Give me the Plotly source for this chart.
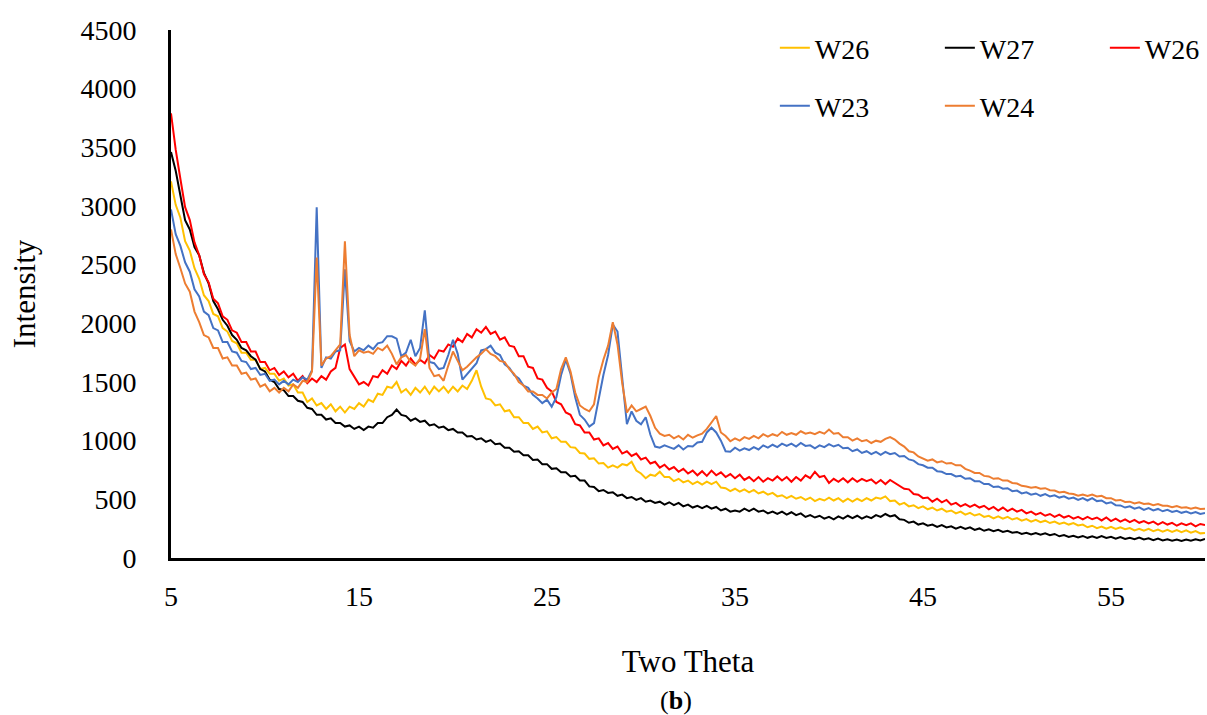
import numpy as np
import plotly.graph_objects as go

# 2-theta sampling grid (degrees), 0.25 deg steps from 5 to 60
two_theta = np.round(np.arange(5.0, 60.001, 0.25), 2)

# Measured intensities, one value per grid step (4 per degree)
w26_yellow = [
    3210, 3010, 2900, 2700, 2620, 2470, 2380, 2240, 2190, 2080, 2060, 1960,
    1930, 1850, 1830, 1750, 1750, 1690, 1690, 1610, 1620, 1570, 1570, 1510,
    1530, 1470, 1480, 1410, 1410, 1330, 1360, 1300, 1320, 1270, 1310, 1250,
    1290, 1240, 1290, 1270, 1320, 1290, 1350, 1330, 1400, 1390, 1460, 1450,
    1500, 1410, 1440, 1390, 1450, 1410, 1460, 1400, 1460, 1420, 1460, 1410,
    1460, 1420, 1470, 1440, 1510, 1600, 1460, 1360, 1350, 1300, 1310, 1250,
    1260, 1200, 1200, 1150, 1150, 1100, 1120, 1070, 1080, 1020, 1030, 990,
    990, 945, 940, 895, 890, 845, 850, 805, 810, 770, 790, 770,
    800, 790, 820, 745, 720, 680, 710, 700, 735, 690, 690, 655,
    675, 645, 660, 630, 650, 625, 650, 630, 650, 600, 595, 570,
    590, 565, 585, 560, 580, 550, 565, 540, 555, 525, 535, 510,
    530, 505, 520, 495, 515, 485, 505, 490, 515, 490, 510, 480,
    505, 480, 505, 485, 510, 490, 515, 505, 525, 485, 490, 455,
    470, 440, 450, 425, 440, 415, 430, 405, 420, 395, 405, 380,
    395, 370, 385, 362, 375, 350, 360, 338, 355, 335, 350, 328,
    340, 318, 332, 310, 326, 305, 318, 298, 310, 290, 302, 285,
    298, 278, 285, 262, 275, 255, 268, 250, 265, 248, 262, 245,
    255, 235, 248, 232, 248, 228, 242, 225, 240, 222, 238, 220,
    235, 215, 230, 210, 213,
]

w27_black = [
    3460, 3300, 3090, 2880, 2800, 2650, 2580, 2430, 2340, 2190, 2120, 2030,
    1980, 1900, 1860, 1790, 1770, 1720, 1690, 1610, 1590, 1520, 1500, 1440,
    1430, 1380, 1380, 1340, 1330, 1280, 1270, 1220, 1220, 1180, 1190, 1150,
    1150, 1120, 1130, 1100, 1120, 1090, 1120, 1110, 1150, 1150, 1200, 1220,
    1265, 1220, 1210, 1170, 1190, 1160, 1170, 1130, 1140, 1110, 1120, 1090,
    1100, 1070, 1070, 1035, 1040, 1010, 1020, 990, 1005, 970, 975, 940,
    940, 905, 910, 875, 875, 835, 840, 800, 800, 760, 765, 730,
    730, 695, 700, 660, 660, 610, 605, 570, 580, 555, 560, 530,
    540, 510, 520, 495, 510, 480, 490, 470, 480, 455, 475, 450,
    470, 440, 455, 430, 445, 425, 445, 420, 435, 405, 420, 395,
    405, 395, 420, 400, 420, 395, 405, 380, 395, 375, 395, 370,
    390, 365, 380, 350, 365, 345, 360, 335, 350, 330, 355, 335,
    360, 340, 360, 335, 355, 340, 365, 350, 375, 355, 365, 330,
    325, 300, 310, 285, 295, 275, 285, 265, 280, 260, 270, 250,
    265, 248, 262, 240, 252, 232, 245, 228, 240, 222, 232, 215,
    222, 205, 215, 200, 212, 198, 210, 195, 205, 185, 195, 180,
    190, 175, 188, 172, 185, 170, 186, 170, 180, 165, 178, 162,
    172, 160, 175, 158, 168, 152, 165, 150, 160, 148, 158, 145,
    158, 148, 160, 150, 162,
]

w26_red = [
    3790, 3480, 3230, 2990, 2880, 2690, 2580, 2420, 2350, 2210, 2170, 2060,
    2030, 1940, 1920, 1840, 1840, 1760, 1760, 1670, 1670, 1600, 1620, 1560,
    1590, 1540, 1570, 1510, 1550, 1490, 1530, 1500, 1550, 1520, 1590, 1620,
    1790, 1820, 1610, 1550, 1480, 1500, 1470, 1550, 1540, 1600, 1570, 1640,
    1610, 1680, 1640, 1700, 1650, 1690, 1660, 1730, 1700, 1770, 1760, 1820,
    1800, 1870, 1840, 1910, 1880, 1950, 1920, 1970, 1910, 1930, 1860, 1880,
    1810, 1800, 1720, 1720, 1630, 1620, 1530, 1520, 1450, 1420, 1330, 1310,
    1240, 1220, 1140, 1130, 1070, 1070, 1010, 1020, 960, 980, 930, 950,
    890, 910, 870, 890, 840, 855, 805, 820, 770, 795, 755, 775,
    735, 760, 720, 745, 705, 740, 700, 745, 705, 730, 690, 715,
    680, 710, 665, 690, 655, 690, 650, 680, 660, 695, 660, 690,
    650, 690, 660, 705, 680, 735, 690, 700, 640, 675, 650, 680,
    645, 680, 650, 675, 655, 670, 635, 665, 630, 665, 640, 620,
    590, 585, 545, 540, 510, 515, 480, 505, 475, 495, 455, 470,
    440, 460, 435, 455, 430, 445, 415, 435, 405, 430, 400, 420,
    395, 410, 380, 395, 370, 385, 360, 375, 350, 370, 345, 360,
    335, 350, 330, 350, 330, 345, 320, 345, 315, 335, 310, 330,
    305, 325, 300, 315, 295, 310, 285, 305, 285, 300, 275, 295,
    280, 295, 270, 290, 280,
]

w23_blue = [
    2970, 2760, 2660, 2520, 2440, 2290, 2230, 2100, 2070, 1960, 1940, 1840,
    1840, 1760, 1750, 1680, 1670, 1610, 1620, 1560, 1570, 1510, 1520, 1480,
    1510, 1480, 1520, 1500, 1540, 1520, 1600, 2990, 1620, 1710, 1700, 1760,
    1770, 2460, 1850, 1760, 1790, 1770, 1810, 1780, 1830, 1840, 1890, 1890,
    1870, 1720, 1750, 1860, 1720, 1790, 2110, 1670, 1660, 1610, 1620, 1730,
    1860, 1740, 1520, 1570, 1620, 1660, 1770, 1780, 1810, 1750, 1730, 1650,
    1620, 1560, 1530, 1470, 1450, 1390, 1360, 1320, 1350, 1290, 1370, 1560,
    1690, 1570, 1370, 1220, 1180, 1120, 1150, 1360, 1560, 1730, 1990, 1930,
    1560, 1140, 1250, 1170, 1140, 1200, 1050, 950, 940, 960, 945, 930,
    960, 925, 955, 950, 985, 990, 1070, 1110, 1070, 1000, 910, 905,
    940, 915, 935, 920, 945, 925, 960, 940, 965, 945, 975, 955,
    975, 950, 980, 955, 960, 935, 960, 945, 970, 950, 965, 935,
    940, 910, 925, 895, 910, 885, 905, 880, 905, 885, 895, 865,
    870, 840, 830, 800, 790, 770, 770, 740, 735, 715, 715, 695,
    700, 675, 680, 655, 655, 630, 630, 605, 610, 590, 595, 570,
    575, 550, 560, 540, 550, 530, 545, 525, 535, 515, 525, 505,
    515, 495, 510, 490, 510, 485, 490, 465, 475, 450, 448, 430,
    440, 420, 432, 410, 425, 405, 418, 398, 410, 392, 402, 385,
    395, 380, 392, 375, 384,
]

w24_orange = [
    2800, 2590, 2470, 2340, 2270, 2100, 2010, 1900, 1880, 1790, 1790, 1700,
    1710, 1640, 1640, 1570, 1580, 1520, 1530, 1460, 1480, 1420, 1450, 1410,
    1450, 1420, 1480, 1450, 1510, 1500, 1590, 2560, 1640, 1700, 1720, 1770,
    1820, 2700, 1900, 1720, 1770, 1750, 1760, 1740, 1790, 1770, 1810, 1740,
    1650, 1710, 1730, 1670, 1640, 1700, 1950, 1620, 1550, 1560, 1510, 1640,
    1760, 1680, 1600, 1630, 1670, 1710, 1740, 1780, 1740, 1720, 1680, 1670,
    1610, 1570, 1500, 1470, 1420, 1420, 1390, 1390, 1360, 1410, 1440, 1610,
    1710, 1590, 1410, 1300, 1270, 1250, 1310, 1540, 1690, 1810, 2010, 1820,
    1490, 1240, 1300, 1250, 1270, 1290, 1210, 1110, 1060, 1040, 1050, 1020,
    1040, 1010, 1050, 1025, 1045, 1060, 1100, 1150, 1210, 1070, 1040, 995,
    1020, 1000, 1030, 1015, 1040, 1020, 1055, 1035, 1055, 1040, 1075, 1050,
    1065, 1050, 1080, 1060, 1070, 1055, 1075, 1060, 1095, 1060, 1065, 1030,
    1030, 1000, 1020, 995, 1005, 980, 1000, 990, 1015, 1030, 1010, 975,
    950, 910, 900, 865, 850, 830, 840, 815, 825, 805, 810, 790,
    790, 760, 745, 725, 725, 700, 695, 675, 680, 660, 660, 640,
    635, 615, 610, 598, 605, 590, 595, 578, 575, 558, 565, 550,
    545, 530, 540, 528, 540, 525, 530, 510, 510, 490, 495, 478,
    480, 465, 475, 460, 465, 450, 460, 445, 445, 432, 442, 428,
    432, 420, 430, 418, 420,
]

x_ticks = [5, 15, 25, 35, 45, 55]

FONT = "Liberation Serif"

# name, values, colour, legend group, entry width (px) in the legend row
series = [
    ("W26", w26_yellow, "#FFC000", "legend", 120),
    ("W27", w27_black, "#000000", "legend", 120),
    ("W26", w26_red, "#FF0000", "legend", 50),
    ("W23", w23_blue, "#4472C4", "legend2", 120),
    ("W24", w24_orange, "#ED7D31", "legend2", 50),
]

fig = go.Figure()
for name, vals, color, leg, lw in series:
    fig.add_trace(go.Scatter(
        x=two_theta, y=vals, mode="lines", name=name,
        line=dict(color=color, width=2), legend=leg, legendwidth=lw,
    ))

legend_style = dict(
    orientation="h", xanchor="left", yanchor="middle",
    bgcolor="rgba(0,0,0,0)", font=dict(family=FONT, size=28, color="black"),
)

fig.update_layout(
    width=1207, height=715, autosize=False,
    margin=dict(l=171, r=2, t=30, b=157),
    paper_bgcolor="white", plot_bgcolor="white",
    font=dict(family=FONT, size=28, color="black"),
    legend=dict(x=0.584, y=0.966, **legend_style),
    legend2=dict(x=0.584, y=0.856, **legend_style),
    xaxis=dict(
        range=[5, 60], tickvals=x_ticks, showgrid=False, zeroline=False,
        showline=True, linecolor="black", linewidth=3,
        ticks="outside", ticklen=11, tickcolor="rgba(0,0,0,0)",
        tickfont=dict(family=FONT, size=28),
        title=dict(text="Two Theta", standoff=40, font=dict(family=FONT, size=31)),
    ),
    yaxis=dict(
        range=[0, 4500], dtick=500, showgrid=False, zeroline=False,
        showline=True, linecolor="black", linewidth=3,
        ticks="outside", ticklen=26, tickcolor="rgba(0,0,0,0)",
        tickfont=dict(family=FONT, size=28),
        title=dict(text="Intensity", standoff=36, font=dict(family=FONT, size=31)),
    ),
    annotations=[dict(
        text="(<b>b</b>)", x=0.488, y=-0.269, xref="paper", yref="paper",
        showarrow=False, xanchor="center", yanchor="middle",
        font=dict(family=FONT, size=26, color="black"),
    )],
)

fig.write_html("out.html")
